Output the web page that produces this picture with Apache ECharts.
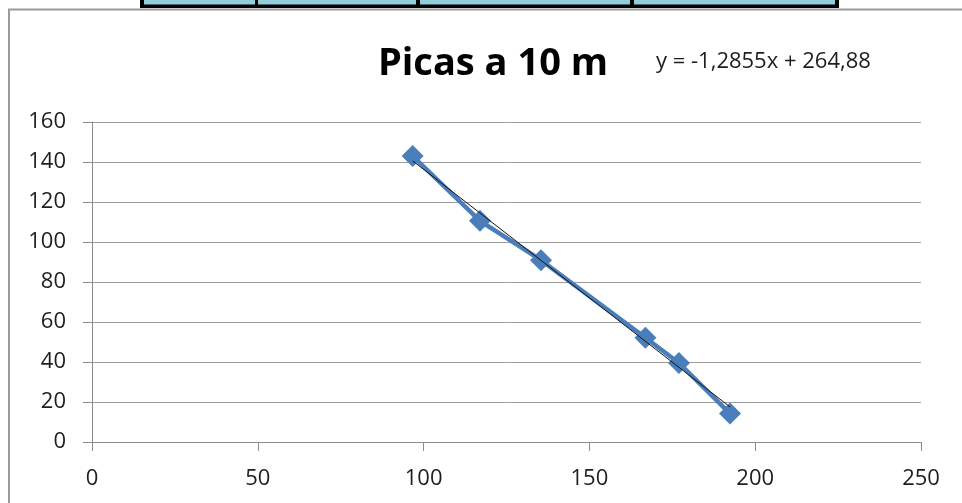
<!DOCTYPE html>
<html>
<head>
<meta charset="utf-8">
<script src="https://cdn.jsdelivr.net/npm/echarts@6/dist/echarts.min.js"></script>
<style>
  html, body { margin: 0; padding: 0; background: #fff; }
  #chart { width: 962px; height: 503px; }
</style>
</head>
<body>
<div id="chart"></div>
<script>
// Measured distances (m) and pick counts
const distX = [96.7, 117, 135.4, 166.9, 177, 192.4];
const picasY = [143, 110.6, 90.9, 52.1, 39.5, 14.2];

// Linear trend coefficients as printed on the chart
const trendSlope = -1.2855;
const trendIntercept = 264.88;
const trendLabel = 'y = -1,2855x + 264,88';

const titleText = 'Picas a 10 m';
const xTicks = [0, 50, 100, 150, 200, 250];
const yTicks = [0, 20, 40, 60, 80, 100, 120, 140, 160];

const points = distX.map((x, i) => [x, picasY[i]]);
const xMin = Math.min(...distX), xMax = Math.max(...distX);
const trend = [xMin, xMax].map(x => [x, trendSlope * x + trendIntercept]);

const chart = echarts.init(document.getElementById('chart'), null, { renderer: 'canvas' });

const labelFont = { fontFamily: 'Open Sans', fontSize: 22, color: '#1e1e1e' };

chart.setOption({
  animation: false,
  backgroundColor: '#ffffff',
  title: {
    text: titleText,
    left: 488, top: 40,
    textAlign: 'center',
    textStyle: { fontFamily: 'Open Sans', fontWeight: 'bold', fontSize: 38, color: '#000' }
  },
  graphic: [
    // table strip above the chart frame
    { type: 'rect', shape: { x: 140, y: -2, width: 699, height: 10 }, style: { fill: '#000' }, silent: true },
    { type: 'rect', shape: { x: 144, y: -2, width: 111, height: 6.5 }, style: { fill: '#92cddc' }, silent: true },
    { type: 'rect', shape: { x: 258, y: -2, width: 158, height: 6.5 }, style: { fill: '#92cddc' }, silent: true },
    { type: 'rect', shape: { x: 420, y: -2, width: 210, height: 6.5 }, style: { fill: '#92cddc' }, silent: true },
    { type: 'rect', shape: { x: 634, y: -2, width: 201, height: 6.5 }, style: { fill: '#92cddc' }, silent: true },
    // chart frame
    { type: 'rect', shape: { x: 9, y: 9.5, width: 980, height: 520 }, style: { fill: 'none', stroke: '#9a9a9a', lineWidth: 2 }, silent: true },
    // trendline equation
    { type: 'text', left: 656, top: 51, style: { text: trendLabel, fontFamily: 'Open Sans', fontSize: 22, fill: '#1e1e1e' }, silent: true }
  ],
  grid: { left: 92, right: 41, top: 122, bottom: 61, containLabel: false },
  xAxis: {
    type: 'value',
    min: 0, max: 250, interval: 50,
    axisLine: { show: true, lineStyle: { color: '#8c8c8c', width: 1 } },
    axisTick: { show: true, length: 9, lineStyle: { color: '#8c8c8c' } },
    splitLine: { show: false },
    axisLabel: Object.assign({ margin: 26, formatter: v => String(v) }, labelFont)
  },
  yAxis: {
    type: 'value',
    min: 0, max: 160, interval: 20,
    axisLine: { show: true, lineStyle: { color: '#8c8c8c', width: 1 } },
    axisTick: { show: true, length: 9, inside: false, lineStyle: { color: '#8c8c8c' } },
    splitLine: { show: true, lineStyle: { color: '#9c9c9c', width: 1 } },
    axisLabel: Object.assign({ margin: 26, formatter: v => String(v) }, labelFont)
  },
  series: [
    {
      name: 'Picas',
      type: 'line',
      data: points,
      symbol: 'diamond',
      symbolSize: 22,
      lineStyle: { color: '#4a7ebb', width: 4.5 },
      itemStyle: { color: '#4a7ebb' },
      z: 2
    },
    {
      name: 'Tendencia',
      type: 'line',
      data: trend,
      symbol: 'none',
      lineStyle: { color: '#111', width: 1 },
      z: 3
    }
  ]
});
</script>
</body>
</html>
